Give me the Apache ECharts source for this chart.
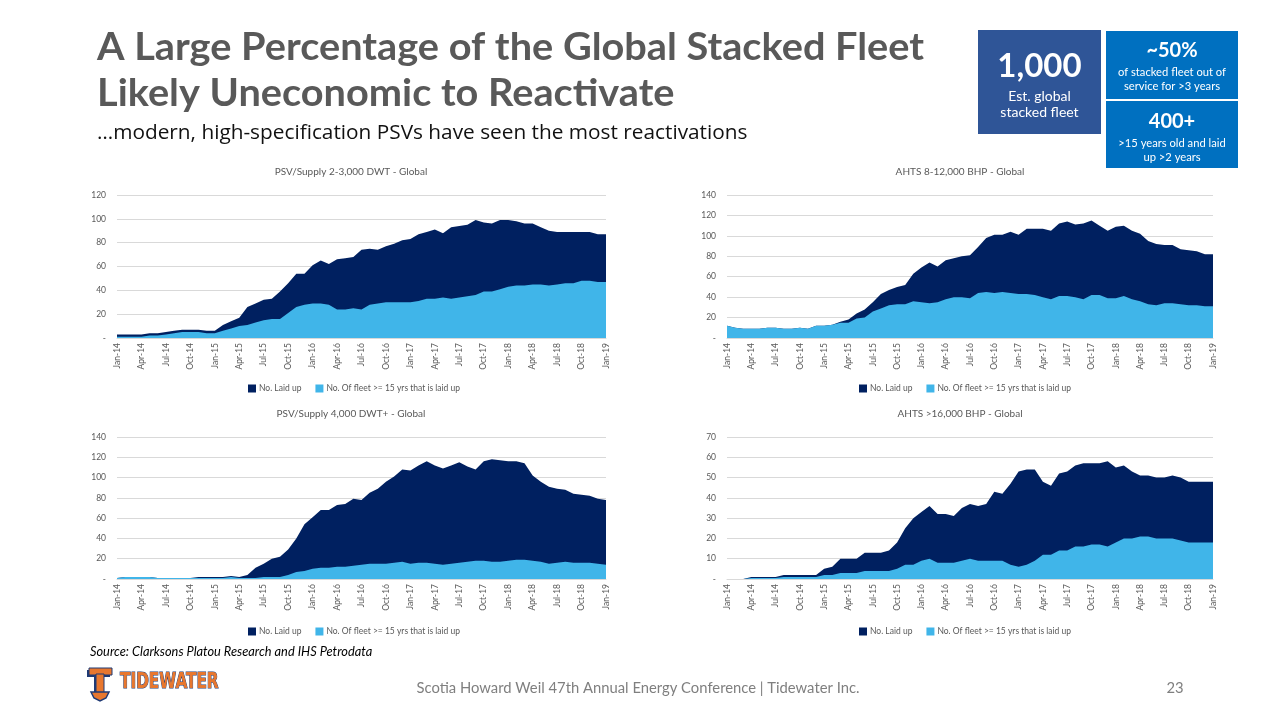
<!DOCTYPE html>
<html>
<head>
<meta charset="utf-8">
<script src="https://cdn.jsdelivr.net/npm/echarts@6/dist/echarts.min.js"></script>
<style>
html,body{margin:0;padding:0;background:#fff;}
#c{width:1280px;height:720px;}
</style>
</head>
<body>
<div id="c"></div>
<script>
var months = ['Jan-14','Feb-14','Mar-14','Apr-14','May-14','Jun-14','Jul-14','Aug-14','Sep-14','Oct-14','Nov-14','Dec-14',
'Jan-15','Feb-15','Mar-15','Apr-15','May-15','Jun-15','Jul-15','Aug-15','Sep-15','Oct-15','Nov-15','Dec-15',
'Jan-16','Feb-16','Mar-16','Apr-16','May-16','Jun-16','Jul-16','Aug-16','Sep-16','Oct-16','Nov-16','Dec-16',
'Jan-17','Feb-17','Mar-17','Apr-17','May-17','Jun-17','Jul-17','Aug-17','Sep-17','Oct-17','Nov-17','Dec-17',
'Jan-18','Feb-18','Mar-18','Apr-18','May-18','Jun-18','Jul-18','Aug-18','Sep-18','Oct-18','Nov-18','Dec-18',
'Jan-19'];

var seriesNames = ['No. Laid up', 'No. Of fleet >= 15 yrs that is laid up'];
var chartTitles = ['PSV/Supply 2-3,000 DWT - Global', 'AHTS 8-12,000 BHP - Global', 'PSV/Supply 4,000 DWT+ - Global', 'AHTS >16,000 BHP - Global'];
var yMax = [120, 140, 140, 70];
var yStep = [20, 20, 20, 10];

// PSV/Supply 2-3,000 DWT
var psvSmallLaidUp = [3,3,3,3,4,4,5,6,7,7,7,6,
 6,11,14,17,26,29,32,33,39,46,54,54,
 61,65,62,66,67,68,74,75,74,77,79,82,
 83,87,89,91,88,93,94,95,99,97,96,99,
 99,98,96,96,93,90,89,89,89,89,89,87,
 87];
var psvSmallOld = [1,1,1,1,2,2,3,4,5,5,5,4,
 4,6,8,10,11,13,15,16,16,21,26,28,
 29,29,28,24,24,25,24,28,29,30,30,30,
 30,31,33,33,34,33,34,35,36,39,39,41,
 43,44,44,45,45,44,45,46,46,48,48,47,
 47];
// AHTS 8-12,000 BHP
var ahtsMidLaidUp = [12,10,9,9,9,10,10,9,9,10,9,12,
 12,13,16,18,24,28,35,43,47,50,52,63,
 69,74,70,76,78,80,81,89,98,101,101,104,
 101,107,107,107,105,112,114,111,112,115,110,105,
 109,110,105,102,95,92,91,91,87,86,85,82,
 82];
var ahtsMidOld = [12,10,9,9,9,10,10,9,9,10,9,12,
 12,13,15,15,19,20,26,29,32,33,33,36,
 35,34,35,38,40,40,39,44,45,44,45,44,
 43,43,42,40,38,41,41,40,38,42,42,39,
 39,41,38,36,33,32,34,34,33,32,32,31,
 31];
// PSV/Supply 4,000 DWT+
var psvLargeLaidUp = [1,2,2,2,2,1,1,1,1,1,2,2,
 2,2,3,2,4,11,15,20,22,29,40,54,
 61,68,68,73,74,79,78,85,89,96,101,108,
 107,112,116,112,109,112,115,111,108,116,118,117,
 116,116,114,102,96,91,89,88,84,83,82,79,
 78];
var psvLargeOld = [1,2,2,2,2,1,1,1,1,1,1,1,
 1,1,2,1,1,1,2,2,2,4,7,8,
 10,11,11,12,12,13,14,15,15,15,16,17,
 15,16,16,15,14,15,16,17,18,18,17,17,
 18,19,19,18,17,15,16,17,16,16,16,15,
 14];
// AHTS >16,000 BHP
var ahtsLargeLaidUp = [0,0,0,1,1,1,1,2,2,2,2,2,
 5,6,10,10,10,13,13,13,14,18,25,30,
 33,36,32,32,31,35,37,36,37,43,42,47,
 53,54,54,48,46,52,53,56,57,57,57,58,
 55,56,53,51,51,50,50,51,50,48,48,48,
 48];
var ahtsLargeOld = [0,0,0,0.5,0.5,0.5,0.5,1,1,1,1,1,
 2,2,3,3,3,4,4,4,4,5,7,7,
 9,10,8,8,8,9,10,9,9,9,9,7,
 6,7,9,12,12,14,14,16,16,17,17,16,
 18,20,20,21,21,20,20,20,19,18,18,18,
 18];

var laidUpSets = [psvSmallLaidUp, ahtsMidLaidUp, psvLargeLaidUp, ahtsLargeLaidUp];
var oldSets = [psvSmallOld, ahtsMidOld, psvLargeOld, ahtsLargeOld];

var DARK = '#002060', LIGHT = '#40B5E9';
var FONT = 'Lato, "Open Sans", sans-serif';
var AXC = '#595959';

var grids = [
  {left:117, right:674, top:195, bottom:382},
  {left:727, right:67, top:195, bottom:382},
  {left:117, right:674, top:437, bottom:141},
  {left:727, right:67, top:437, bottom:141}
];
var titlePos = [[351,172],[960,172],[351,414],[960,414]];
var legendPos = [[248,384],[859,384],[248,627],[859,627]];

var xAxes = [], yAxes = [], series = [], legends = [], graphics = [];
for (var i = 0; i < 4; i++) {
  xAxes.push({
    gridIndex:i, type:'category', boundaryGap:false, data:months,
    axisTick:{show:false},
    axisLine:{lineStyle:{color:'#D9D9D9'}},
    axisLabel:{rotate:90, interval:2, fontSize:8.5, color:AXC, margin:5, fontFamily:FONT}
  });
  yAxes.push({
    gridIndex:i, type:'value', min:0, max:yMax[i], interval:yStep[i],
    axisLine:{show:false}, axisTick:{show:false},
    splitLine:{lineStyle:{color:'#D9D9D9', width:1}},
    axisLabel:{fontSize:8.5, color:AXC, margin:11, fontFamily:FONT,
      formatter:function(v){return v===0?'-':String(v);}}
  });
  series.push({
    name:seriesNames[0], type:'line', xAxisIndex:i, yAxisIndex:i, data:laidUpSets[i],
    symbol:'none', lineStyle:{width:0, color:DARK}, itemStyle:{color:DARK},
    areaStyle:{color:DARK, opacity:1}, silent:true
  });
  series.push({
    name:seriesNames[1], type:'line', xAxisIndex:i, yAxisIndex:i, data:oldSets[i],
    symbol:'none', lineStyle:{width:0, color:LIGHT}, itemStyle:{color:LIGHT},
    areaStyle:{color:LIGHT, opacity:1}, silent:true
  });
  legends.push({
    left:legendPos[i][0], top:legendPos[i][1], padding:0, itemGap:14,
    itemWidth:8, itemHeight:8, icon:'rect', selectedMode:false,
    data:seriesNames,
    textStyle:{fontSize:8.5, color:AXC, fontFamily:FONT, padding:[0,0,0,-2]}
  });
  graphics.push({type:'text', x:titlePos[i][0], y:titlePos[i][1],
    style:{text:chartTitles[i], fill:AXC, font:'10px '+FONT, textAlign:'center', textVerticalAlign:'middle'}});
}

function txt(x, y, s, font, fill, align, z) {
  return {type:'text', x:x, y:y, z:z||10, style:{text:s, font:font, fill:fill, textAlign:align||'left', textVerticalAlign:'middle'}};
}

// header
var t1 = txt(97, 48, 'A Large Percentage of the Global Stacked Fleet', 'bold 38px '+FONT, '#595959'); t1.scaleX = 1.045;
var t2 = txt(97, 93.5, 'Likely Uneconomic to Reactivate', 'bold 38px '+FONT, '#595959'); t2.scaleX = 1.045;
graphics.push(t1, t2);
graphics.push(txt(97, 133, '\u2026modern, high-specification PSVs have seen the most reactivations', '20.8px "Open Sans", sans-serif', '#111111'));

// KPI boxes
graphics.push({type:'rect', shape:{x:978, y:30, width:123, height:104}, style:{fill:'#2F5597'}, z:5});
graphics.push({type:'rect', shape:{x:1106, y:31, width:132, height:68}, style:{fill:'#0070C0'}, z:5});
graphics.push({type:'rect', shape:{x:1106, y:101, width:132, height:67}, style:{fill:'#0070C0'}, z:5});
graphics.push(txt(1039.5, 66, '1,000', 'bold 33px '+FONT, '#ffffff', 'center'));
graphics.push(txt(1039.5, 96, 'Est. global', '14px '+FONT, '#ffffff', 'center'));
graphics.push(txt(1039.5, 112, 'stacked fleet', '14px '+FONT, '#ffffff', 'center'));
graphics.push(txt(1172, 51, '~50%', 'bold 20px '+FONT, '#ffffff', 'center'));
graphics.push(txt(1172, 72.5, 'of stacked fleet out of', '11.2px '+FONT, '#ffffff', 'center'));
graphics.push(txt(1172, 86, 'service for >3 years', '11.2px '+FONT, '#ffffff', 'center'));
graphics.push(txt(1172, 122, '400+', 'bold 20px '+FONT, '#ffffff', 'center'));
graphics.push(txt(1172, 143, '>15 years old and laid', '11.2px '+FONT, '#ffffff', 'center'));
graphics.push(txt(1172, 157, 'up >2 years', '11.2px '+FONT, '#ffffff', 'center'));

// source & footer
graphics.push(txt(90, 652, 'Source: Clarksons Platou Research and IHS Petrodata', 'italic 12.8px '+FONT, '#000000'));
graphics.push(txt(638, 688, 'Scotia Howard Weil 47th Annual Energy Conference | Tidewater Inc.', '14.8px '+FONT, '#7F7F7F', 'center'));
graphics.push(txt(1175, 688, '23', '14.8px '+FONT, '#7F7F7F', 'center'));

// logo
var ORANGE = '#E8772E', NAVY = '#1F3A75';
graphics.push({type:'rect', shape:{x:87, y:670, width:23, height:7}, style:{fill:NAVY}, z:5});
graphics.push({type:'rect', shape:{x:94, y:676, width:8, height:20}, style:{fill:NAVY}, z:5});
graphics.push({type:'rect', shape:{x:89, y:668, width:23, height:7}, style:{fill:ORANGE, stroke:NAVY, lineWidth:1}, z:6});
graphics.push({type:'rect', shape:{x:96, y:674, width:8, height:20}, style:{fill:ORANGE, stroke:NAVY, lineWidth:1}, z:6});
graphics.push({type:'polygon', shape:{points:[[91,692],[109,692],[106,698],[100,701],[94,698]]}, style:{fill:ORANGE, stroke:NAVY, lineWidth:1.5}, z:6});
var lg = txt(120, 683, 'TIDEWATER', 'bold 21px "DejaVu Sans Condensed", "DejaVu Sans", sans-serif', ORANGE);
lg.scaleX = 0.81; lg.style.stroke = NAVY; lg.style.lineWidth = 1;
graphics.push(lg);

var chart = echarts.init(document.getElementById('c'), null, {renderer:'canvas'});
chart.setOption({
  animation:false,
  backgroundColor:'#ffffff',
  grid:grids,
  xAxis:xAxes,
  yAxis:yAxes,
  legend:legends,
  series:series,
  graphic:graphics
});
</script>
</body>
</html>
